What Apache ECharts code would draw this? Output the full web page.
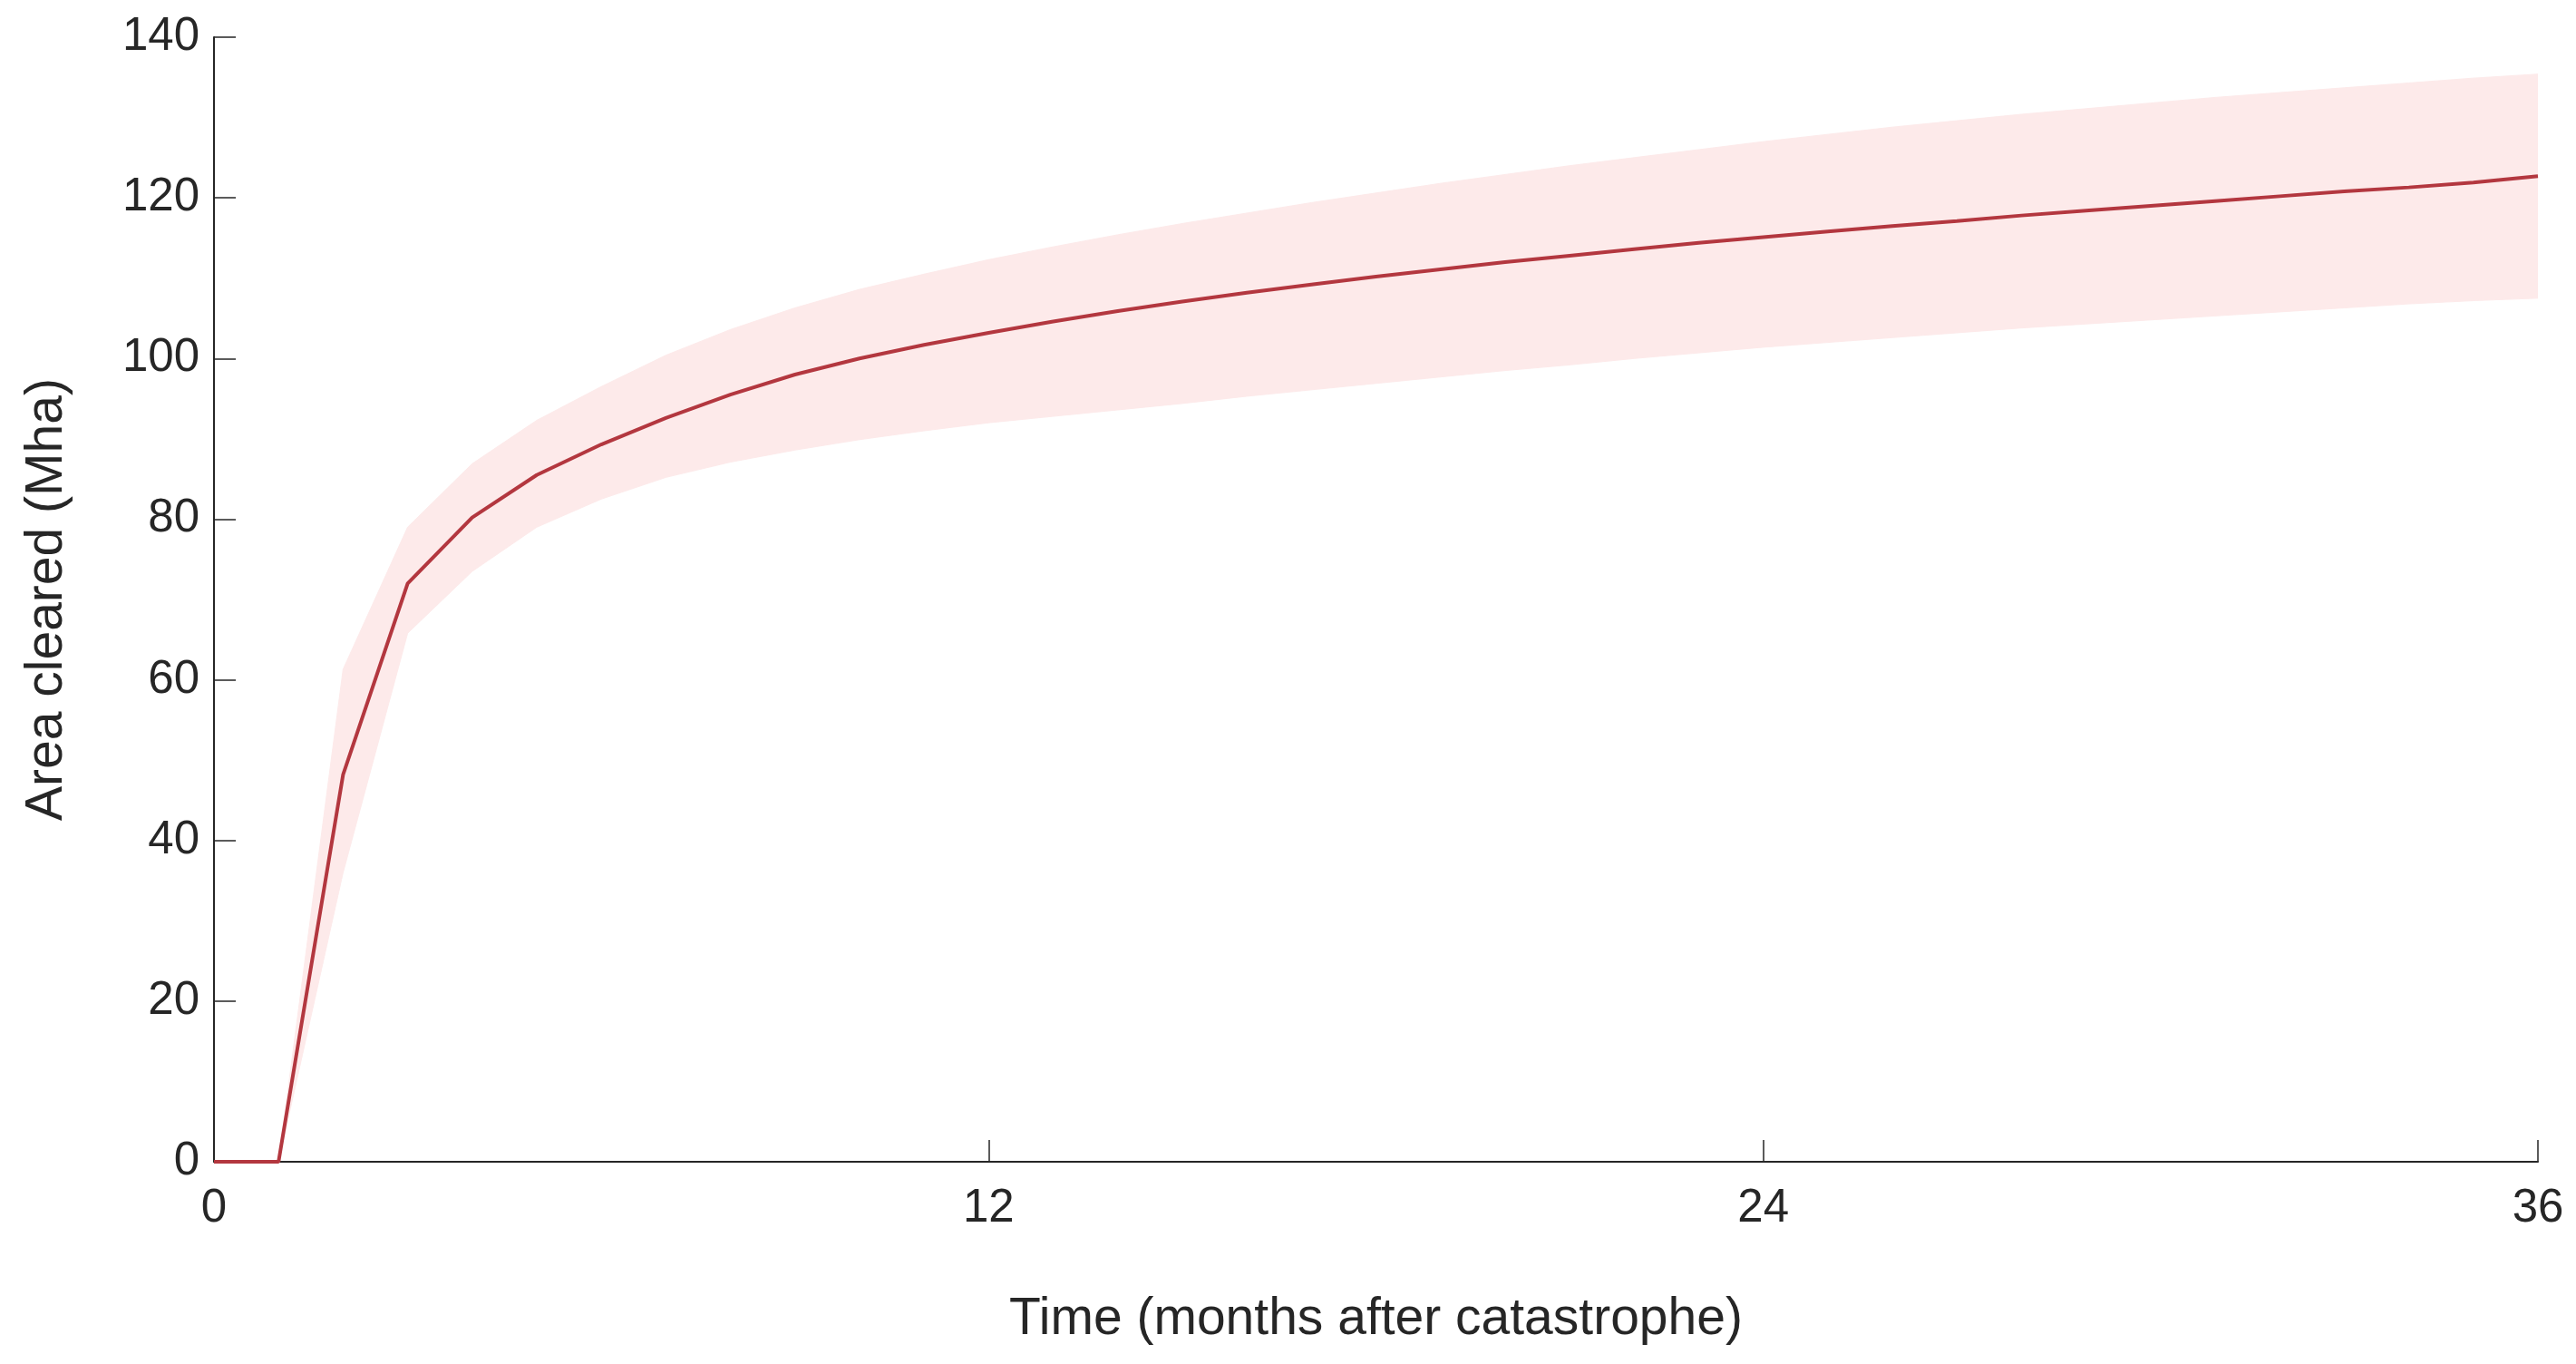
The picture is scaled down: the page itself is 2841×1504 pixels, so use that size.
<!DOCTYPE html>
<html>
<head>
<meta charset="utf-8">
<script src="https://cdn.jsdelivr.net/npm/echarts@6/dist/echarts.min.js"></script>
<style>
  html, body { margin: 0; padding: 0; background: #fff; }
  #chart { width: 2841px; height: 1504px; }
</style>
</head>
<body>
<div id="chart"></div>
<script>
// months after catastrophe
var months = [0, 1, 2, 3, 4, 5, 6, 7, 8, 9, 10, 11, 12, 13, 14, 15, 16, 17, 18,
  19, 20, 21, 22, 23, 24, 25, 26, 27, 28, 29, 30, 31, 32, 33, 34, 35, 36];

// central estimate of area cleared (Mha)
var cleared = [0, 0, 48.2, 72, 80.2, 85.5, 89.3, 92.6, 95.5, 98, 100, 101.7, 103.2,
  104.6, 105.9, 107.1, 108.2, 109.2, 110.2, 111.1, 112, 112.8, 113.6, 114.4, 115.1,
  115.8, 116.5, 117.1, 117.8, 118.4, 119, 119.6, 120.2, 120.8, 121.3, 121.9, 122.7];

// uncertainty band
var upper = [0, 0, 61.3, 79, 86.9, 92.3, 96.5, 100.4, 103.6, 106.3, 108.6, 110.5, 112.3,
  113.9, 115.4, 116.8, 118.1, 119.4, 120.6, 121.8, 122.9, 124, 125, 126, 127,
  127.9, 128.8, 129.6, 130.4, 131.1, 131.8, 132.5, 133.1, 133.7, 134.3, 134.9, 135.4];
var lower = [0, 0, 36, 65.8, 73.5, 79, 82.5, 85.2, 87.1, 88.6, 89.9, 91, 92,
  92.8, 93.6, 94.4, 95.3, 96.1, 96.9, 97.7, 98.5, 99.2, 100, 100.7, 101.4,
  102, 102.6, 103.2, 103.8, 104.3, 104.8, 105.3, 105.8, 106.3, 106.8, 107.2, 107.5];

var xTicks = [0, 12, 24, 36];
var yTicks = [0, 20, 40, 60, 80, 100, 120, 140];

var axisColor = '#262626';
var lineColor = '#b3373f';
var bandColor = '#fdeaea';
var font = '"Liberation Sans", Arial, Helvetica, sans-serif';

var lineData = months.map(function (m, i) { return [m, cleared[i]]; });

// band polygon: upper edge left to right, lower edge back right to left
function renderBand(params, api) {
  var pts = [];
  var i;
  for (i = 0; i < months.length; i++) pts.push(api.coord([months[i], upper[i]]));
  for (i = months.length - 1; i >= 0; i--) pts.push(api.coord([months[i], lower[i]]));
  return {
    type: 'polygon',
    shape: { points: pts },
    style: { fill: bandColor, stroke: bandColor, lineWidth: 1 }
  };
}

var chart = echarts.init(document.getElementById('chart'), null, { renderer: 'canvas' });

chart.setOption({
  backgroundColor: '#ffffff',
  animation: false,
  grid: { left: 236, right: 42, top: 41, bottom: 223, containLabel: false },
  xAxis: {
    type: 'value',
    min: xTicks[0],
    max: xTicks[xTicks.length - 1],
    interval: 12,
    name: 'Time (months after catastrophe)',
    nameLocation: 'middle',
    nameGap: 146,
    nameTextStyle: { fontFamily: font, fontSize: 57, color: axisColor },
    axisLine: { show: true, lineStyle: { color: axisColor, width: 2 } },
    axisTick: { show: true, inside: true, length: 24, lineStyle: { color: axisColor, width: 1.5 } },
    axisLabel: { margin: 26, fontFamily: font, fontSize: 51, color: axisColor },
    splitLine: { show: false }
  },
  yAxis: {
    type: 'value',
    min: yTicks[0],
    max: yTicks[yTicks.length - 1],
    interval: 20,
    name: 'Area cleared (Mha)',
    nameLocation: 'middle',
    nameGap: 155,
    nameRotate: 90,
    nameTextStyle: { fontFamily: font, fontSize: 57, color: axisColor },
    axisLine: { show: true, lineStyle: { color: axisColor, width: 2 } },
    axisTick: { show: true, inside: true, length: 24, lineStyle: { color: axisColor, width: 1.5 } },
    axisLabel: { margin: 16, fontFamily: font, fontSize: 51, color: axisColor },
    splitLine: { show: false }
  },
  series: [
    {
      name: 'band',
      type: 'custom',
      renderItem: renderBand,
      data: [0],
      silent: true,
      clip: true,
      z: 1
    },
    {
      name: 'Area cleared',
      type: 'line',
      data: lineData,
      symbol: 'none',
      lineStyle: { color: lineColor, width: 4 },
      z: 3
    }
  ]
});
</script>
</body>
</html>
